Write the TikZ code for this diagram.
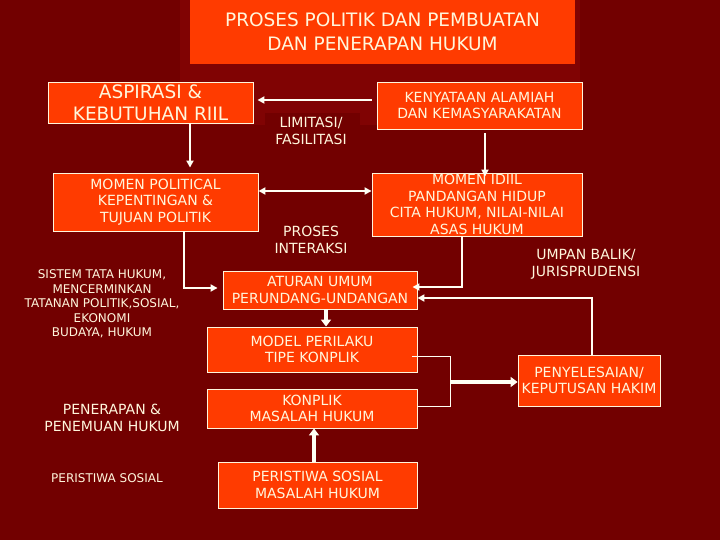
\documentclass[tikz,border=0pt]{standalone}
\usepackage{fontspec}
\setmainfont{DejaVu Sans}
\usetikzlibrary{arrows.meta}
\definecolor{bgred}{HTML}{720000}
\definecolor{bglight}{HTML}{800303}
\definecolor{boxor}{HTML}{FF3B00}
\definecolor{txt}{HTML}{FFF6DC}
\definecolor{ln}{HTML}{FFFFF4}
\tikzset{
  box/.style={draw=txt, line width=0.9pt, fill=boxor, text=txt, align=center, inner sep=0pt},
  lbl/.style={text=txt, align=center, inner sep=0pt},
  fmain/.style={font=\fontsize{14}{16.6}\selectfont},
  fsmall/.style={font=\fontsize{12}{14.5}\selectfont},
  arr/.style={draw=ln, line width=1.8pt, -{Triangle[length=7pt,width=7pt]}},
  darr/.style={draw=ln, line width=1.8pt, {Triangle[length=7pt,width=7pt]}-{Triangle[length=7pt,width=7pt]}},
  thickarr/.style={draw=ln, line width=3.6pt, -{Triangle[length=7pt,width=10pt]}},
  thinln/.style={draw=ln, line width=1pt}
}
\begin{document}
\begin{tikzpicture}[x=1pt,y=-1pt]
\fill[bgred] (0,0) rectangle (720,540);
\useasboundingbox (0,0) rectangle (720,540);
\fill[bglight] (180,0) rectangle (580,125);
\fill[bgred] (265,113) rectangle (360,125);

\node[box, draw=none, minimum width=385pt, minimum height=64pt, font=\fontsize{18.5}{24}\selectfont] (title) at (382.5,32) {PROSES POLITIK DAN PEMBUATAN\\DAN PENERAPAN HUKUM};

\node[box, minimum width=205pt, minimum height=41pt, font=\fontsize{18.5}{22}\selectfont] (asp) at (150.5,102.5) {ASPIRASI \&\\KEBUTUHAN RIIL};
\node[box, fmain, minimum width=205pt, minimum height=58pt] (mpol) at (155.5,202) {MOMEN POLITICAL\\KEPENTINGAN \&\\TUJUAN POLITIK};
\node[box, fmain, minimum width=205pt, minimum height=47pt] (keny) at (479.5,105.5) {KENYATAAN ALAMIAH\\DAN KEMASYARAKATAN};
\node[box, fmain, minimum width=210pt, minimum height=63pt] (midi) at (477,204.5) {MOMEN IDIIL\\PANDANGAN HIDUP\\CITA HUKUM, NILAI-NILAI\\ASAS HUKUM};
\node[box, fmain, minimum width=194pt, minimum height=38pt] (atur) at (320,290) {ATURAN UMUM\\PERUNDANG-UNDANGAN};
\node[box, fmain, minimum width=210pt, minimum height=45pt] (model) at (312,349.5) {MODEL PERILAKU\\TIPE KONPLIK};
\node[box, fmain, minimum width=210pt, minimum height=39pt] (konp) at (312,408.5) {KONPLIK\\MASALAH HUKUM};
\node[box, fmain, minimum width=199pt, minimum height=46pt] (peri) at (317.5,485) {PERISTIWA SOSIAL\\MASALAH HUKUM};
\node[box, fmain, minimum width=142pt, minimum height=51pt] (peny) at (589,380.5) {PENYELESAIAN/\\KEPUTUSAN HAKIM};

\node[lbl, fmain] (lim) at (311,131) {LIMITASI/\\FASILITASI};
\node[lbl, fmain] (pros) at (311,240) {PROSES\\INTERAKSI};
\node[lbl, fsmall] (sis) at (102,304) {SISTEM TATA HUKUM,\\MENCERMINKAN\\TATANAN POLITIK,SOSIAL,\\EKONOMI\\BUDAYA, HUKUM};
\node[lbl, fmain] (pen) at (112,418) {PENERAPAN \&\\PENEMUAN HUKUM};
\node[lbl, fsmall] (perl) at (107,478) {PERISTIWA SOSIAL};
\node[lbl, fmain] (ump) at (586,264) {UMPAN BALIK/\\JURISPRUDENSI};

\coordinate (bt) at (450,356);
\coordinate (bb) at (450,406);
\coordinate (bm) at (450,382);

\draw[arr, shorten <=5pt, shorten >=4pt] ([yshift=5.5pt]keny.west) -- ([yshift=2.5pt]asp.east);
\draw[arr, shorten >=5pt] ([xshift=39.5pt]asp.south) -- ([xshift=34.5pt]mpol.north);
\draw[arr, shorten <=4pt, shorten >=-4pt] ([xshift=5.5pt]keny.south) -- ([xshift=8pt]midi.north);
\draw[darr] ([yshift=11pt]mpol.east) -- ([yshift=13.5pt]midi.west);
\draw[arr, shorten >=5pt] ([xshift=28.5pt]mpol.south) |- ([yshift=2pt]atur.west);
\draw[arr, shorten >=-5pt] ([xshift=-15pt]midi.south) |- ([yshift=3pt]atur.east);
\draw[arr] ([xshift=3pt]peny.north) |- ([yshift=-8pt]atur.east);
\draw[thickarr] (atur.south -| 326,0) -- (model.north -| 326,0);
\draw[thinln] ([xshift=-5pt,yshift=-6.5pt]model.east) -- (bt) -- (bb) -- ([yshift=2.5pt]konp.east);
\draw[thickarr] (bm) -- ([yshift=-1.5pt]peny.west);
\draw[thickarr] (peri.north -| 314,0) -- (konp.south -| 314,0);
\end{tikzpicture}
\end{document}
